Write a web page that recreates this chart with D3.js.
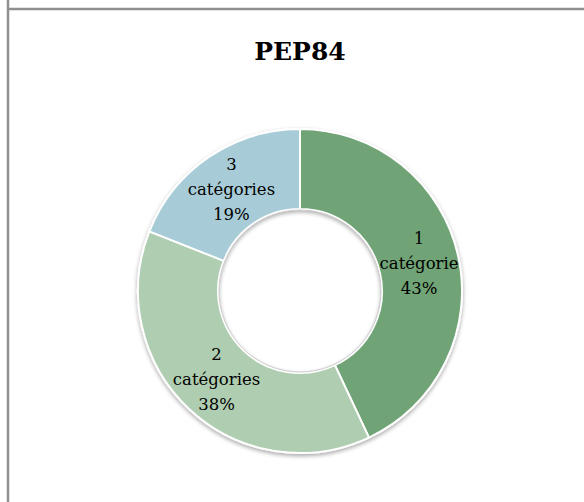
<!DOCTYPE html>
<html lang="fr">
  <head>
    <meta charset="UTF-8" />
    <title>PEP84</title>
    <script src="https://d3js.org/d3.v7.min.js"></script>
    <style>
      body {
        margin: 0;
        background: #fff;
      }
      .title {
        font-family: 'DejaVu Serif', serif;
        font-weight: bold;
        font-size: 25px;
      }
      .lbl {
        font-family: 'DejaVu Serif', serif;
        font-size: 16.5px;
        fill: #000;
      }
    </style>
  </head>
  <body>
    <div class="chart"></div>
    <script>
      const categories = ["1", "2", "3"];
      const words = ["catégorie", "catégories", "catégories"];
      const shares = [43, 38, 19];
      const colors = ["#6fa374", "#afcdb0", "#a8ccd7"];

      let width = 584,
          height = 502;
      let svg = d3.select(".chart").append("svg")
          .attr("width", width)
          .attr("height", height);

      // frame lines (left and top)
      svg.append("line")
        .attr("x1", 8).attr("x2", 8).attr("y1", 0).attr("y2", height)
        .attr("stroke", "#8f8f8f").attr("stroke-width", 2.5);
      svg.append("line")
        .attr("x1", 8).attr("x2", width).attr("y1", 9).attr("y2", 9)
        .attr("stroke", "#8f8f8f").attr("stroke-width", 2.5);

      svg.append("text")
        .attr("class", "title")
        .attr("x", 300)
        .attr("y", 60)
        .attr("text-anchor", "middle")
        .text("PEP84");

      let defs = svg.append("defs");
      let f = defs.append("filter").attr("id", "shadow")
        .attr("x", "-20%").attr("y", "-20%").attr("width", "140%").attr("height", "140%");
      f.append("feDropShadow")
        .attr("dx", 0).attr("dy", 2).attr("stdDeviation", 2)
        .attr("flood-color", "#000").attr("flood-opacity", 0.35);

      const outer = 162, inner = 82;
      let g = svg.append("g").attr("transform", "translate(300,291)");

      let pie = d3.pie().sort(null).value(d => d);
      let arc = d3.arc().innerRadius(inner).outerRadius(outer);
      let arcs = pie(shares);

      g.append("g")
        .attr("filter", "url(#shadow)")
        .selectAll("path")
        .data(arcs)
        .enter()
        .append("path")
        .attr("d", arc)
        .attr("fill", (d, i) => colors[i])
        .attr("stroke", "#fff")
        .attr("stroke-width", 2);

      // faint rim on the hole
      g.append("circle")
        .attr("r", inner - 1)
        .attr("fill", "none")
        .attr("stroke", "#ccc")
        .attr("stroke-width", 1);

      let labels = g.selectAll("text.lbl")
        .data(arcs)
        .enter()
        .append("text")
        .attr("class", "lbl")
        .attr("text-anchor", "middle")
        .attr("transform", d => `translate(${arc.centroid(d)})`);
      labels.each(function (d, i) {
        let t = d3.select(this);
        let lines = [categories[i], words[i], shares[i] + "%"];
        lines.forEach((s, k) => {
          t.append("tspan")
            .attr("x", 0)
            .attr("y", (k - 1) * 25 + 5)
            .text(s);
        });
      });
    </script>
  </body>
</html>
